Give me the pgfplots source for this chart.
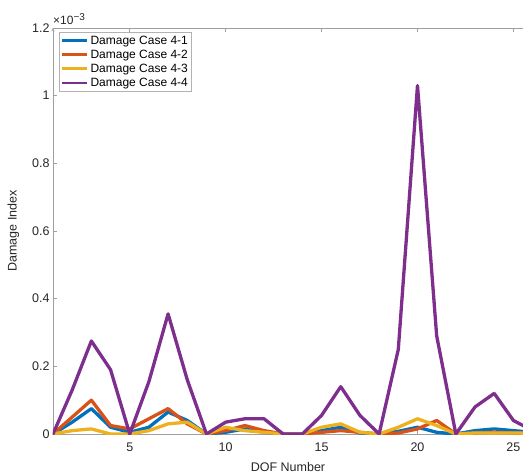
\documentclass[border=0pt]{standalone}
\usepackage{pgfplots}
\pgfplotsset{compat=1.18}
\usepackage{fontspec}
\setmainfont{Liberation Sans}
\usetikzlibrary{calc}

\definecolor{mblue}{rgb}{0,0.447,0.741}
\definecolor{morange}{rgb}{0.85,0.325,0.098}
\definecolor{myellow}{rgb}{0.929,0.694,0.125}
\definecolor{mpurple}{rgb}{0.494,0.184,0.556}
\definecolor{axgray}{rgb}{0.15,0.15,0.15}

\pgfplotsset{dline/.style={line width=3.3pt, line join=round, line cap=round}}

\begin{document}
\begin{tikzpicture}
\begin{axis}[
    scale only axis,
    width=470pt, height=406pt,
    xmin=1, xmax=25.5,
    ymin=0, ymax=0.0012,
    axis x line=box,
    axis y line=left,
    axis line style={gray!75, line width=0.5pt},
    xtick={5,10,15,20,25},
    ytick={0,0.0002,0.0004,0.0006,0.0008,0.001,0.0012},
    scaled y ticks=base 10:3,
    tick align=inside,
    major tick length=4pt,
    tick style={gray!75, line width=0.5pt},
    ticklabel style={font=\fontsize{12.5}{14}\selectfont, text=axgray},
    xticklabel style={yshift=-5pt},
    /pgf/number format/assume math mode=true,
    ytick scale label code/.code={×10\raisebox{0.6ex}{\fontsize{10}{10}\selectfont −3}},
    every y tick scale label/.style={at={(rel axis cs:0,1)}, anchor=south west,
        inner sep=0pt, yshift=3pt, font=\fontsize{12}{14}\selectfont, text=axgray},
    xlabel={DOF Number}, ylabel={Damage Index},
    label style={font=\fontsize{12.5}{14}\selectfont, text=axgray},
    xlabel style={yshift=-4pt},
    ylabel style={yshift=6pt},
    legend style={at={(rel axis cs:0,1)}, anchor=north west, xshift=6pt, yshift=-4pt,
        draw=gray!60, line width=0.5pt, font=\fontsize{12}{14}\selectfont, row sep=0.2pt,
        inner sep=1.5pt, cells={anchor=west}},
    legend cell align=left,
    legend image code/.code={\draw[#1, line width=2.8pt, line cap=butt] (0pt,0pt) -- (25pt,0pt);},
    clip=true,
]
\addplot[draw=mblue, dline] coordinates {
(1,0) (2,0.000035) (3,0.000075) (4,0.00002) (5,0.000005) (6,0.00002) (7,0.000065)
(8,0.00004) (9,0) (10,0.000005) (11,0.000015) (12,0.000005) (13,0) (14,0)
(15,0.00001) (16,0.00002) (17,0.000003) (18,0) (19,0.000008) (20,0.00002)
(21,0.000005) (22,0) (23,0.00001) (24,0.000015) (25,0.00001) (26,0.000005)};
\addlegendentry{Damage Case 4-1}
\addplot[draw=morange, dline] coordinates {
(1,0) (2,0.00005) (3,0.0001) (4,0.000025) (5,0.000015) (6,0.000045) (7,0.000075)
(8,0.00003) (9,0) (10,0.00001) (11,0.000025) (12,0.00001) (13,0) (14,0)
(15,0.000005) (16,0.00001) (17,0.000005) (18,0) (19,0.000003) (20,0.000015)
(21,0.00004) (22,0) (23,0.000003) (24,0.000005) (25,0.000003) (26,0.000002)};
\addlegendentry{Damage Case 4-2}
\addplot[draw=myellow, dline] coordinates {
(1,0) (2,0.00001) (3,0.000015) (4,0) (5,0) (6,0.00001) (7,0.00003)
(8,0.000035) (9,0) (10,0.00002) (11,0.00001) (12,0.000005) (13,0) (14,0)
(15,0.00002) (16,0.00003) (17,0.000005) (18,0) (19,0.00002) (20,0.000045)
(21,0.000025) (22,0) (23,0.000003) (24,0.000003) (25,0.000003) (26,0.000002)};
\addlegendentry{Damage Case 4-3}
\addplot[draw=mpurple, dline] coordinates {
(1,0) (2,0.00013) (3,0.000275) (4,0.00019) (5,0) (6,0.000155) (7,0.000355)
(8,0.00016) (9,0) (10,0.000035) (11,0.000045) (12,0.000045) (13,0) (14,0)
(15,0.000055) (16,0.00014) (17,0.000055) (18,0) (19,0.00025) (20,0.00103)
(21,0.00029) (22,0) (23,0.00008) (24,0.00012) (25,0.00004) (26,0.00001)};
\addlegendentry{Damage Case 4-4}
\end{axis}
\pgfresetboundingbox
\path[use as bounding box] ($(current axis.south west)+(-53pt,-41pt)$)
    rectangle ($(current axis.north east)+(0pt,28pt)$);
\end{tikzpicture}
\end{document}
